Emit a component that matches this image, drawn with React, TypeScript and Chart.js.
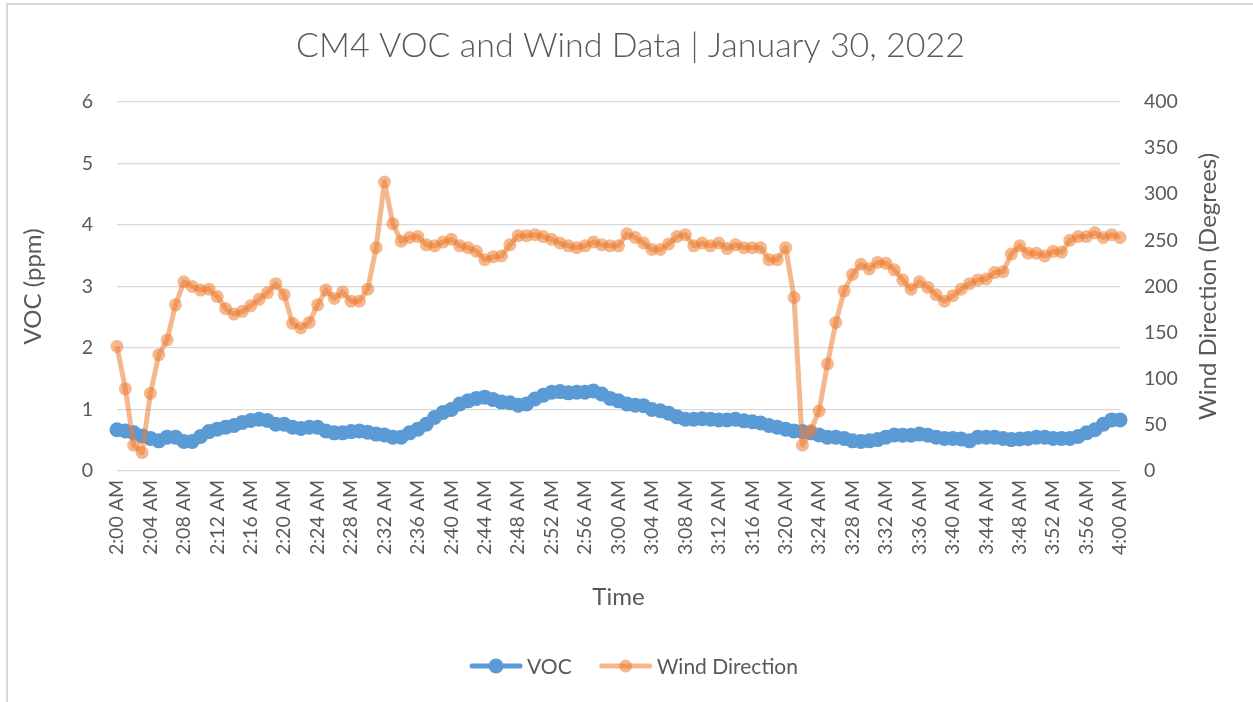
import React, { useEffect, useRef } from "react";
import { Chart, registerables } from "chart.js";

Chart.register(...registerables);

const CHART_TITLE = "CM4 VOC and Wind Data | January 30, 2022";
const LEFT_TITLE = "VOC (ppm)";
const RIGHT_TITLE = "Wind Direction (Degrees)";
const X_TITLE = "Time";
const SERIES_NAMES = ["VOC", "Wind Direction"];

const timeLabels = [
  "2:00 AM", "2:01 AM", "2:02 AM", "2:03 AM", "2:04 AM", "2:05 AM", "2:06 AM", "2:07 AM", "2:08 AM", "2:09 AM",
  "2:10 AM", "2:11 AM", "2:12 AM", "2:13 AM", "2:14 AM", "2:15 AM", "2:16 AM", "2:17 AM", "2:18 AM", "2:19 AM",
  "2:20 AM", "2:21 AM", "2:22 AM", "2:23 AM", "2:24 AM", "2:25 AM", "2:26 AM", "2:27 AM", "2:28 AM", "2:29 AM",
  "2:30 AM", "2:31 AM", "2:32 AM", "2:33 AM", "2:34 AM", "2:35 AM", "2:36 AM", "2:37 AM", "2:38 AM", "2:39 AM",
  "2:40 AM", "2:41 AM", "2:42 AM", "2:43 AM", "2:44 AM", "2:45 AM", "2:46 AM", "2:47 AM", "2:48 AM", "2:49 AM",
  "2:50 AM", "2:51 AM", "2:52 AM", "2:53 AM", "2:54 AM", "2:55 AM", "2:56 AM", "2:57 AM", "2:58 AM", "2:59 AM",
  "3:00 AM", "3:01 AM", "3:02 AM", "3:03 AM", "3:04 AM", "3:05 AM", "3:06 AM", "3:07 AM", "3:08 AM", "3:09 AM",
  "3:10 AM", "3:11 AM", "3:12 AM", "3:13 AM", "3:14 AM", "3:15 AM", "3:16 AM", "3:17 AM", "3:18 AM", "3:19 AM",
  "3:20 AM", "3:21 AM", "3:22 AM", "3:23 AM", "3:24 AM", "3:25 AM", "3:26 AM", "3:27 AM", "3:28 AM", "3:29 AM",
  "3:30 AM", "3:31 AM", "3:32 AM", "3:33 AM", "3:34 AM", "3:35 AM", "3:36 AM", "3:37 AM", "3:38 AM", "3:39 AM",
  "3:40 AM", "3:41 AM", "3:42 AM", "3:43 AM", "3:44 AM", "3:45 AM", "3:46 AM", "3:47 AM", "3:48 AM", "3:49 AM",
  "3:50 AM", "3:51 AM", "3:52 AM", "3:53 AM", "3:54 AM", "3:55 AM", "3:56 AM", "3:57 AM", "3:58 AM", "3:59 AM",
  "4:00 AM",
];

const vocValues = [
  0.67, 0.65, 0.62, 0.57, 0.53, 0.49, 0.55, 0.55, 0.48, 0.48,
  0.56, 0.64, 0.68, 0.71, 0.74, 0.79, 0.82, 0.84, 0.82, 0.76,
  0.76, 0.71, 0.69, 0.71, 0.71, 0.65, 0.62, 0.62, 0.64, 0.65,
  0.63, 0.6, 0.585, 0.55, 0.55, 0.62, 0.68, 0.76, 0.87, 0.95,
  1.0, 1.09, 1.14, 1.18, 1.2, 1.16, 1.12, 1.11, 1.07, 1.09,
  1.17, 1.23, 1.28, 1.29, 1.27, 1.28, 1.28, 1.3, 1.25, 1.18,
  1.14, 1.09, 1.07, 1.06, 1.0, 0.98, 0.94, 0.88, 0.84, 0.84,
  0.85, 0.84, 0.83, 0.83, 0.84, 0.815, 0.8, 0.78, 0.74, 0.71,
  0.68, 0.65, 0.64, 0.62, 0.585, 0.55, 0.55, 0.53, 0.49, 0.48,
  0.49, 0.51, 0.55, 0.585, 0.58, 0.58, 0.6, 0.58, 0.55, 0.53,
  0.53, 0.52, 0.49, 0.55, 0.55, 0.55, 0.53, 0.51, 0.52, 0.53,
  0.55, 0.55, 0.53, 0.53, 0.53, 0.56, 0.62, 0.67, 0.76, 0.83,
  0.83,
];

const windValues = [
  135, 89, 28, 20, 84, 126, 142, 180, 205, 200,
  196, 197, 189, 176, 170, 173, 179, 186, 193, 203,
  191, 160, 155, 161, 180, 196, 187, 194, 184, 184,
  197, 242, 313, 268, 249, 253, 254, 245, 244, 248,
  251, 244, 242, 238, 229, 232, 233, 245, 255, 255,
  256, 254, 251, 247, 244, 242, 244, 248, 245, 244,
  244, 257, 253, 247, 240, 240, 246, 254, 256, 244,
  247, 244, 247, 241, 245, 242, 242, 242, 229, 229,
  242, 188, 28, 44, 65, 116, 161, 195, 213, 224,
  219, 226, 225, 218, 207, 197, 205, 199, 191, 184,
  190, 197, 203, 207, 208, 215, 216, 235, 244, 236,
  236, 233, 238, 237, 250, 254, 254, 258, 253, 256,
  253,
];

const VOC_MIN = 0;
const VOC_MAX = 6;
const VOC_STEP = 1;
const WIND_MIN = 0;
const WIND_MAX = 400;
const WIND_STEP = 50;
const X_LABEL_EVERY = 4;

const TEXT = "#595959";
const GRID = "#d9d9d9";
const BLUE = "#5B9BD5";
const ORANGE_A = "rgba(237,125,49,0.55)";
const FONT = "Lato, 'Open Sans', sans-serif";

const overlayPlugin = {
  id: "overlay",
  afterDraw(chart: any) {
    const { ctx, chartArea, width } = chart;
    // right axis title (reads bottom to top)
    ctx.save();
    ctx.font = `24px ${FONT}`;
    ctx.fillStyle = TEXT;
    ctx.translate(chartArea.right + 88, (chartArea.top + chartArea.bottom) / 2);
    ctx.rotate(-Math.PI / 2);
    ctx.textAlign = "center";
    ctx.textBaseline = "middle";
    ctx.fillText(RIGHT_TITLE, 0, 0);
    ctx.restore();

    // legend
    ctx.save();
    ctx.font = `21px ${FONT}`;
    const iconW = 54;
    const gap = 4;
    const itemGap = 27;
    const items = chart.data.datasets.map((ds: any) => ({
      label: ds.label,
      line: ds.borderColor,
      point: ds.pointBackgroundColor,
      lw: ds.borderWidth,
      r: ds.pointRadius,
      tw: ctx.measureText(ds.label).width,
    }));
    let total = 0;
    items.forEach((it: any, i: number) => {
      total += iconW + gap + it.tw + (i > 0 ? itemGap : 0);
    });
    let x = width / 2 - total / 2 + 3;
    const y = chart.height - 36;
    items.forEach((it: any, i: number) => {
      if (i > 0) x += itemGap;
      ctx.strokeStyle = it.line;
      ctx.lineWidth = it.lw;
      ctx.lineCap = "round";
      ctx.beginPath();
      ctx.moveTo(x + 3, y);
      ctx.lineTo(x + iconW - 3, y);
      ctx.stroke();
      ctx.fillStyle = it.point;
      ctx.beginPath();
      ctx.arc(x + iconW / 2, y, it.r, 0, Math.PI * 2);
      ctx.fill();
      x += iconW + gap;
      ctx.fillStyle = TEXT;
      ctx.textAlign = "left";
      ctx.textBaseline = "middle";
      ctx.fillText(it.label, x, y + 1);
      x += it.tw;
    });
    ctx.restore();
  },
};

export default function App() {
  const canvasRef = useRef<HTMLCanvasElement | null>(null);

  useEffect(() => {
    if (!canvasRef.current) return;
    Chart.defaults.font.family = FONT;
    Chart.defaults.color = TEXT;
    const chart = new Chart(canvasRef.current, {
      type: "line",
      data: {
        labels: timeLabels,
        datasets: [
          {
            label: SERIES_NAMES[0],
            data: vocValues,
            yAxisID: "y",
            borderColor: BLUE,
            backgroundColor: BLUE,
            pointBackgroundColor: BLUE,
            pointBorderWidth: 0,
            pointRadius: 7.5,
            borderWidth: 5,
            borderJoinStyle: "round",
            tension: 0,
            order: 2,
            clip: false,
          },
          {
            label: SERIES_NAMES[1],
            data: windValues,
            yAxisID: "y1",
            borderColor: ORANGE_A,
            backgroundColor: ORANGE_A,
            pointBackgroundColor: ORANGE_A,
            pointBorderWidth: 0,
            pointRadius: 6.5,
            borderWidth: 5,
            borderJoinStyle: "round",
            tension: 0,
            order: 1,
            clip: false,
          },
        ],
      },
      options: {
        animation: false,
        responsive: true,
        maintainAspectRatio: false,
        events: [],
        layout: { padding: { top: 3, bottom: 90, left: 0, right: 0 } },
        plugins: {
          legend: { display: false },
          tooltip: { enabled: false },
          title: {
            display: true,
            text: CHART_TITLE,
            color: TEXT,
            font: { size: 34, weight: "300", family: FONT },
            padding: { top: 18, bottom: 35 },
          },
        },
        scales: {
          x: {
            type: "category",
            grid: { display: false, drawTicks: false },
            border: { display: false },
            ticks: {
              autoSkip: false,
              maxRotation: 90,
              minRotation: 90,
              padding: 9,
              color: TEXT,
              font: { size: 19.5, family: FONT },
              callback: (_v: any, i: number) => (i % X_LABEL_EVERY === 0 ? timeLabels[i] : null),
            },
            title: {
              display: true,
              text: X_TITLE,
              color: TEXT,
              font: { size: 24, family: FONT },
              padding: { top: 0, bottom: 0 },
            },
            afterFit: (s: any) => {
              s.height = 141;
            },
          },
          y: {
            position: "left",
            min: VOC_MIN,
            max: VOC_MAX,
            grid: { color: GRID, lineWidth: 1.3, drawTicks: false },
            border: { display: false },
            ticks: {
              stepSize: VOC_STEP,
              padding: 24,
              color: TEXT,
              font: { size: 19.5, family: FONT },
            },
            title: {
              display: true,
              text: LEFT_TITLE,
              color: TEXT,
              font: { size: 24, family: FONT },
              padding: { top: 11, bottom: 0 },
            },
            afterFit: (s: any) => {
              s.width = 109;
            },
          },
          y1: {
            position: "right",
            min: WIND_MIN,
            max: WIND_MAX,
            grid: { drawOnChartArea: false, display: false, drawTicks: false },
            border: { display: false },
            ticks: {
              stepSize: WIND_STEP,
              padding: 24,
              color: TEXT,
              font: { size: 19.5, family: FONT },
            },
            afterFit: (s: any) => {
              s.width = 133;
            },
          },
        },
      },
      plugins: [overlayPlugin],
    } as any);
    return () => chart.destroy();
  }, []);

  return (
    <div style={{ position: "fixed", left: 0, top: 0, width: "100vw", height: "100vh", overflow: "hidden", background: "#fff" }}>
      <div
        style={{
          position: "absolute",
          left: 6,
          top: 3,
          width: 1245,
          height: 697,
          border: `2px solid ${GRID}`,
          background: "#fff",
        }}
      >
        <div style={{ position: "relative", width: 1245, height: 697 }}>
          <canvas ref={canvasRef} />
        </div>
      </div>
    </div>
  );
}
